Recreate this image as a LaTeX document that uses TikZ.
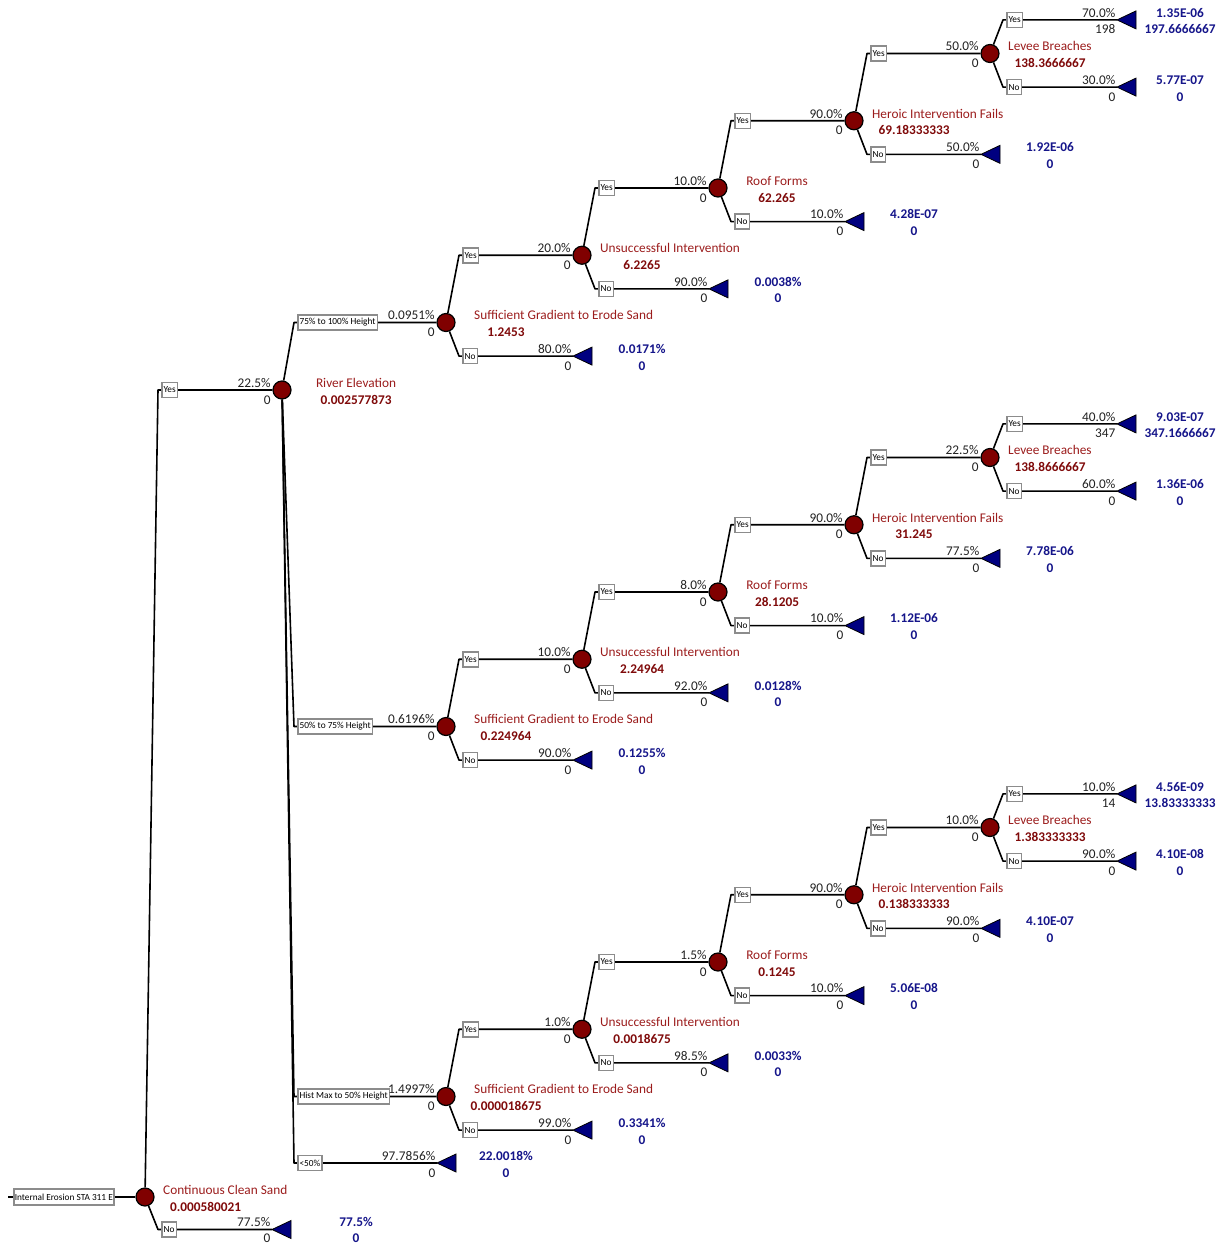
\documentclass[tikz,border=0pt]{standalone}
\usepackage{fontspec}
\setmainfont{Carlito}
\usepackage{xcolor}
\definecolor{chancered}{HTML}{800000}
\definecolor{labelred}{HTML}{9B1C1C}
\definecolor{valred}{HTML}{7F0A0A}
\definecolor{leafblue}{HTML}{000080}
\definecolor{termblue}{HTML}{15158A}
\definecolor{boxgray}{HTML}{8C8C8C}
\definecolor{probgray}{HTML}{222222}
\usetikzlibrary{positioning}

\tikzset{
  chance/.style={circle, draw=black, line width=1.2pt, fill=chancered, minimum size=18pt, inner sep=0pt},
  branch/.style={line width=1.6pt, line join=round},
  leaf/.style={draw=black, line width=0.8pt, fill=leafblue},
  boxbase/.style={draw=boxgray, line width=1.5pt, fill=white, font=\fontsize{9.3}{10}\selectfont,
    inner xsep=1.8pt, inner ysep=0pt, minimum height=15pt},
  brbox/.style={boxbase, anchor=west, xshift=3pt},
  rowup/.style={yshift=2.7pt},
  rowdn/.style={yshift=-14pt},
  prob/.style={anchor=base east, xshift=-1.5pt, inner sep=0pt, text=probgray, font=\fontsize{13.3}{15}\selectfont},
  nlbl/.style={anchor=base, inner sep=0pt, text=labelred, font=\fontsize{13.3}{15}\selectfont},
  nval/.style={anchor=base, inner sep=0pt, text=valred, font=\fontsize{13.3}{15}\selectfont\bfseries},
  tval/.style={anchor=base, inner sep=0pt, text=termblue, font=\fontsize{13.3}{15}\selectfont\bfseries},
}

\begin{document}
\begin{tikzpicture}[x=1pt, y=-1pt]
  \useasboundingbox (0,0) rectangle (1221,1245);

  % --- Root: Continuous Clean Sand ---
  \coordinate (start) at (8,1197);
  \node[boxbase, anchor=west, inner xsep=1pt, minimum height=16pt] (root) at (13,1197) {Internal Erosion STA 311 E};
  \node[chance] (cc) at (145,1197) {};
  \node[chance] (re) at (282,390) {};
  \coordinate (ccy) at (158,390);
  \coordinate (ccn) at (158,1229.5);
  \coordinate (cct) at (272,1229.5);
  \draw[branch] (start) -- (root) -- (cc);
  \draw[branch] (cc) -- (ccy) -- (re);
  \draw[branch] (cc) -- (ccn) -- (cct);
  \draw[leaf] (cct) -- ++(19,-9) -- ++(0,18) -- cycle;
  \node[brbox] (ccyb) at (ccy) {Yes};
  \node[brbox] (ccnb) at (ccn) {No};
  \node[nlbl, rowup, anchor=base west] (ccl) at (163,1197) {Continuous Clean Sand};
  \node[nval, rowdn, anchor=base west] (ccv) at (170,1197) {0.000580021};
  \node[prob, rowup] (rep1) at (re.west) {22.5\%};
  \node[prob, rowdn] (rep2) at (re.west) {0};
  \node[prob, rowup] (cctp1) at (cct) {77.5\%};
  \node[prob, yshift=-12.5pt] (cctp2) at (cct) {0};
  \node[tval, rowup] (ccta) at (356,1229.5) {77.5\%};
  \node[tval, yshift=-12.5pt] (cctb) at (356,1229.5) {0};

  % --- River Elevation ---
  \node[nlbl, rowup] (rel) at (356,390) {River Elevation};
  \node[nval, rowdn] (rev) at (356,390) {0.002577873};
  \node[chance] (sgA) at (446,322.5) {};
  \node[chance] (sgB) at (446,726.5) {};
  \node[chance] (sgC) at (446,1096.5) {};
  \coordinate (rea) at (294,322.5);
  \coordinate (reb) at (294,726.5);
  \coordinate (rec) at (294,1096.5);
  \coordinate (red) at (294,1163);
  \coordinate (ret) at (437,1163);
  \draw[branch] (re) -- (rea) -- (sgA);
  \draw[branch] (re) -- (reb) -- (sgB);
  \draw[branch] (re) -- (rec) -- (sgC);
  \draw[branch] (re) -- (red) -- (ret);
  \draw[leaf] (ret) -- ++(19,-9) -- ++(0,18) -- cycle;
  \node[brbox] (reab) at (rea) {75\% to 100\% Height};
  \node[brbox] (rebb) at (reb) {50\% to 75\% Height};
  \node[brbox] (recb) at (rec) {Hist Max to 50\% Height};
  \node[brbox] (redb) at (red) {<50\%};
  \node[prob, rowup] (sgAp1) at (sgA.west) {0.0951\%};
  \node[prob, rowdn] (sgAp2) at (sgA.west) {0};
  \node[prob, rowup] (sgBp1) at (sgB.west) {0.6196\%};
  \node[prob, rowdn] (sgBp2) at (sgB.west) {0};
  \node[prob, rowup] (sgCp1) at (sgC.west) {1.4997\%};
  \node[prob, rowdn] (sgCp2) at (sgC.west) {0};
  \node[prob, rowup] (retp1) at (ret) {97.7856\%};
  \node[prob, rowdn] (retp2) at (ret) {0};
  \node[tval, rowup] (reta) at (506,1163) {22.0018\%};
  \node[tval, rowdn] (retb) at (506,1163) {0};

  % --- Subtree A: 75% to 100% Height ---
  \begin{scope}
  \node[chance] (uiA) at (582,255.25) {};
  \node[chance] (rfA) at (718,188) {};
  \node[chance] (hiA) at (854,120.75) {};
  \node[chance] (lbA) at (990,53.5) {};
  \coordinate (sgAy) at (459,255.25);  \coordinate (sgAn) at (459,356.1);  \coordinate (sgAt) at (573,356.1);
  \coordinate (uiAy) at (595,188);     \coordinate (uiAn) at (595,288.85); \coordinate (uiAt) at (709,288.85);
  \coordinate (rfAy) at (731,120.75);  \coordinate (rfAn) at (731,221.6);  \coordinate (rfAt) at (845,221.6);
  \coordinate (hiAy) at (867,53.5);    \coordinate (hiAn) at (867,154.35); \coordinate (hiAt) at (981,154.35);
  \coordinate (lbAy) at (1003,19.9);   \coordinate (lbAn) at (1003,87.1);
  \coordinate (lbAyt) at (1117,19.9);  \coordinate (lbAnt) at (1117,87.1);
  \draw[branch] (sgA) -- (sgAy) -- (uiA);
  \draw[branch] (sgA) -- (sgAn) -- (sgAt);
  \draw[branch] (uiA) -- (uiAy) -- (rfA);
  \draw[branch] (uiA) -- (uiAn) -- (uiAt);
  \draw[branch] (rfA) -- (rfAy) -- (hiA);
  \draw[branch] (rfA) -- (rfAn) -- (rfAt);
  \draw[branch] (hiA) -- (hiAy) -- (lbA);
  \draw[branch] (hiA) -- (hiAn) -- (hiAt);
  \draw[branch] (lbA) -- (lbAy) -- (lbAyt);
  \draw[branch] (lbA) -- (lbAn) -- (lbAnt);
  \foreach \t in {sgAt, uiAt, rfAt, hiAt, lbAyt, lbAnt}
    \draw[leaf] (\t) -- ++(19,-9) -- ++(0,18) -- cycle;
  % Yes / No boxes
  \foreach \b in {sgA, uiA, rfA, hiA, lbA} {
    \node[brbox] (\b yb) at (\b y) {Yes};
    \node[brbox] (\b nb) at (\b n) {No};
  }
  % node labels
  \node[nlbl, rowup, anchor=base west] (sgAl) at (474,322.5) {Sufficient Gradient to Erode Sand};
  \node[nval, rowdn] (sgAv) at (506,322.5) {1.2453};
  \node[nlbl, rowup, anchor=base west] (uiAl) at (600,255.25) {Unsuccessful Intervention};
  \node[nval, rowdn] (uiAv) at (642,255.25) {6.2265};
  \node[nlbl, rowup] (rfAl) at (777,188) {Roof Forms};
  \node[nval, rowdn] (rfAv) at (777,188) {62.265};
  \node[nlbl, rowup, anchor=base west] (hiAl) at (872,120.75) {Heroic Intervention Fails};
  \node[nval, rowdn] (hiAv) at (914,120.75) {69.18333333};
  \node[nlbl, rowup, anchor=base west] (lbAl) at (1008,53.5) {Levee Breaches};
  \node[nval, rowdn] (lbAv) at (1050,53.5) {138.3666667};
  % probabilities
  \node[prob, rowup] (uiAp1) at (uiA.west) {20.0\%};  \node[prob, rowdn] (uiAp2) at (uiA.west) {0};
  \node[prob, rowup] (sgAtp1) at (sgAt) {80.0\%};     \node[prob, rowdn] (sgAtp2) at (sgAt) {0};
  \node[prob, rowup] (rfAp1) at (rfA.west) {10.0\%};  \node[prob, rowdn] (rfAp2) at (rfA.west) {0};
  \node[prob, rowup] (uiAtp1) at (uiAt) {90.0\%};     \node[prob, rowdn] (uiAtp2) at (uiAt) {0};
  \node[prob, rowup] (hiAp1) at (hiA.west) {90.0\%};  \node[prob, rowdn] (hiAp2) at (hiA.west) {0};
  \node[prob, rowup] (rfAtp1) at (rfAt) {10.0\%};     \node[prob, rowdn] (rfAtp2) at (rfAt) {0};
  \node[prob, rowup] (lbAp1) at (lbA.west) {50.0\%};  \node[prob, rowdn] (lbAp2) at (lbA.west) {0};
  \node[prob, rowup] (hiAtp1) at (hiAt) {50.0\%};     \node[prob, rowdn] (hiAtp2) at (hiAt) {0};
  \node[prob, rowup] (lbAyp1) at (lbAyt) {70.0\%};    \node[prob, rowdn] (lbAyp2) at (lbAyt) {198};
  \node[prob, rowup] (lbAnp1) at (lbAnt) {30.0\%};    \node[prob, rowdn] (lbAnp2) at (lbAnt) {0};
  % terminal values
  \node[tval, rowup] (sgAta) at (642,356.1) {0.0171\%};     \node[tval, rowdn] (sgAtb) at (642,356.1) {0};
  \node[tval, rowup] (uiAta) at (778,288.85) {0.0038\%};    \node[tval, rowdn] (uiAtb) at (778,288.85) {0};
  \node[tval, rowup] (rfAta) at (914,221.6) {4.28E-07};     \node[tval, rowdn] (rfAtb) at (914,221.6) {0};
  \node[tval, rowup] (hiAta) at (1050,154.35) {1.92E-06};   \node[tval, rowdn] (hiAtb) at (1050,154.35) {0};
  \node[tval, rowup] (lbAya) at (1180,19.9) {1.35E-06};     \node[tval, rowdn] (lbAyb) at (1180,19.9) {197.6666667};
  \node[tval, rowup] (lbAna) at (1180,87.1) {5.77E-07};     \node[tval, rowdn] (lbAnb) at (1180,87.1) {0};
  \end{scope}

  % --- Subtree B: 50% to 75% Height ---
  \begin{scope}[yshift=-404pt]
  \node[chance] (uiB) at (582,255.25) {};
  \node[chance] (rfB) at (718,188) {};
  \node[chance] (hiB) at (854,120.75) {};
  \node[chance] (lbB) at (990,53.5) {};
  \coordinate (sgBy) at (459,255.25);  \coordinate (sgBn) at (459,356.1);  \coordinate (sgBt) at (573,356.1);
  \coordinate (uiBy) at (595,188);     \coordinate (uiBn) at (595,288.85); \coordinate (uiBt) at (709,288.85);
  \coordinate (rfBy) at (731,120.75);  \coordinate (rfBn) at (731,221.6);  \coordinate (rfBt) at (845,221.6);
  \coordinate (hiBy) at (867,53.5);    \coordinate (hiBn) at (867,154.35); \coordinate (hiBt) at (981,154.35);
  \coordinate (lbBy) at (1003,19.9);   \coordinate (lbBn) at (1003,87.1);
  \coordinate (lbByt) at (1117,19.9);  \coordinate (lbBnt) at (1117,87.1);
  \draw[branch] (sgB) -- (sgBy) -- (uiB);
  \draw[branch] (sgB) -- (sgBn) -- (sgBt);
  \draw[branch] (uiB) -- (uiBy) -- (rfB);
  \draw[branch] (uiB) -- (uiBn) -- (uiBt);
  \draw[branch] (rfB) -- (rfBy) -- (hiB);
  \draw[branch] (rfB) -- (rfBn) -- (rfBt);
  \draw[branch] (hiB) -- (hiBy) -- (lbB);
  \draw[branch] (hiB) -- (hiBn) -- (hiBt);
  \draw[branch] (lbB) -- (lbBy) -- (lbByt);
  \draw[branch] (lbB) -- (lbBn) -- (lbBnt);
  \foreach \t in {sgBt, uiBt, rfBt, hiBt, lbByt, lbBnt}
    \draw[leaf] (\t) -- ++(19,-9) -- ++(0,18) -- cycle;
  % Yes / No boxes
  \foreach \b in {sgB, uiB, rfB, hiB, lbB} {
    \node[brbox] (\b yb) at (\b y) {Yes};
    \node[brbox] (\b nb) at (\b n) {No};
  }
  % node labels
  \node[nlbl, rowup, anchor=base west] (sgBl) at (474,322.5) {Sufficient Gradient to Erode Sand};
  \node[nval, rowdn] (sgBv) at (506,322.5) {0.224964};
  \node[nlbl, rowup, anchor=base west] (uiBl) at (600,255.25) {Unsuccessful Intervention};
  \node[nval, rowdn] (uiBv) at (642,255.25) {2.24964};
  \node[nlbl, rowup] (rfBl) at (777,188) {Roof Forms};
  \node[nval, rowdn] (rfBv) at (777,188) {28.1205};
  \node[nlbl, rowup, anchor=base west] (hiBl) at (872,120.75) {Heroic Intervention Fails};
  \node[nval, rowdn] (hiBv) at (914,120.75) {31.245};
  \node[nlbl, rowup, anchor=base west] (lbBl) at (1008,53.5) {Levee Breaches};
  \node[nval, rowdn] (lbBv) at (1050,53.5) {138.8666667};
  % probabilities
  \node[prob, rowup] (uiBp1) at (uiB.west) {10.0\%};  \node[prob, rowdn] (uiBp2) at (uiB.west) {0};
  \node[prob, rowup] (sgBtp1) at (sgBt) {90.0\%};     \node[prob, rowdn] (sgBtp2) at (sgBt) {0};
  \node[prob, rowup] (rfBp1) at (rfB.west) {8.0\%};   \node[prob, rowdn] (rfBp2) at (rfB.west) {0};
  \node[prob, rowup] (uiBtp1) at (uiBt) {92.0\%};     \node[prob, rowdn] (uiBtp2) at (uiBt) {0};
  \node[prob, rowup] (hiBp1) at (hiB.west) {90.0\%};  \node[prob, rowdn] (hiBp2) at (hiB.west) {0};
  \node[prob, rowup] (rfBtp1) at (rfBt) {10.0\%};     \node[prob, rowdn] (rfBtp2) at (rfBt) {0};
  \node[prob, rowup] (lbBp1) at (lbB.west) {22.5\%};  \node[prob, rowdn] (lbBp2) at (lbB.west) {0};
  \node[prob, rowup] (hiBtp1) at (hiBt) {77.5\%};     \node[prob, rowdn] (hiBtp2) at (hiBt) {0};
  \node[prob, rowup] (lbByp1) at (lbByt) {40.0\%};    \node[prob, rowdn] (lbByp2) at (lbByt) {347};
  \node[prob, rowup] (lbBnp1) at (lbBnt) {60.0\%};    \node[prob, rowdn] (lbBnp2) at (lbBnt) {0};
  % terminal values
  \node[tval, rowup] (sgBta) at (642,356.1) {0.1255\%};     \node[tval, rowdn] (sgBtb) at (642,356.1) {0};
  \node[tval, rowup] (uiBta) at (778,288.85) {0.0128\%};    \node[tval, rowdn] (uiBtb) at (778,288.85) {0};
  \node[tval, rowup] (rfBta) at (914,221.6) {1.12E-06};     \node[tval, rowdn] (rfBtb) at (914,221.6) {0};
  \node[tval, rowup] (hiBta) at (1050,154.35) {7.78E-06};   \node[tval, rowdn] (hiBtb) at (1050,154.35) {0};
  \node[tval, rowup] (lbBya) at (1180,19.9) {9.03E-07};     \node[tval, rowdn] (lbByb) at (1180,19.9) {347.1666667};
  \node[tval, rowup] (lbBna) at (1180,87.1) {1.36E-06};     \node[tval, rowdn] (lbBnb) at (1180,87.1) {0};
  \end{scope}

  % --- Subtree C: Hist Max to 50% Height ---
  \begin{scope}[yshift=-774pt]
  \node[chance] (uiC) at (582,255.25) {};
  \node[chance] (rfC) at (718,188) {};
  \node[chance] (hiC) at (854,120.75) {};
  \node[chance] (lbC) at (990,53.5) {};
  \coordinate (sgCy) at (459,255.25);  \coordinate (sgCn) at (459,356.1);  \coordinate (sgCt) at (573,356.1);
  \coordinate (uiCy) at (595,188);     \coordinate (uiCn) at (595,288.85); \coordinate (uiCt) at (709,288.85);
  \coordinate (rfCy) at (731,120.75);  \coordinate (rfCn) at (731,221.6);  \coordinate (rfCt) at (845,221.6);
  \coordinate (hiCy) at (867,53.5);    \coordinate (hiCn) at (867,154.35); \coordinate (hiCt) at (981,154.35);
  \coordinate (lbCy) at (1003,19.9);   \coordinate (lbCn) at (1003,87.1);
  \coordinate (lbCyt) at (1117,19.9);  \coordinate (lbCnt) at (1117,87.1);
  \draw[branch] (sgC) -- (sgCy) -- (uiC);
  \draw[branch] (sgC) -- (sgCn) -- (sgCt);
  \draw[branch] (uiC) -- (uiCy) -- (rfC);
  \draw[branch] (uiC) -- (uiCn) -- (uiCt);
  \draw[branch] (rfC) -- (rfCy) -- (hiC);
  \draw[branch] (rfC) -- (rfCn) -- (rfCt);
  \draw[branch] (hiC) -- (hiCy) -- (lbC);
  \draw[branch] (hiC) -- (hiCn) -- (hiCt);
  \draw[branch] (lbC) -- (lbCy) -- (lbCyt);
  \draw[branch] (lbC) -- (lbCn) -- (lbCnt);
  \foreach \t in {sgCt, uiCt, rfCt, hiCt, lbCyt, lbCnt}
    \draw[leaf] (\t) -- ++(19,-9) -- ++(0,18) -- cycle;
  % Yes / No boxes
  \foreach \b in {sgC, uiC, rfC, hiC, lbC} {
    \node[brbox] (\b yb) at (\b y) {Yes};
    \node[brbox] (\b nb) at (\b n) {No};
  }
  % node labels
  \node[nlbl, rowup, anchor=base west] (sgCl) at (474,322.5) {Sufficient Gradient to Erode Sand};
  \node[nval, rowdn] (sgCv) at (506,322.5) {0.000018675};
  \node[nlbl, rowup, anchor=base west] (uiCl) at (600,255.25) {Unsuccessful Intervention};
  \node[nval, rowdn] (uiCv) at (642,255.25) {0.0018675};
  \node[nlbl, rowup] (rfCl) at (777,188) {Roof Forms};
  \node[nval, rowdn] (rfCv) at (777,188) {0.1245};
  \node[nlbl, rowup, anchor=base west] (hiCl) at (872,120.75) {Heroic Intervention Fails};
  \node[nval, rowdn] (hiCv) at (914,120.75) {0.138333333};
  \node[nlbl, rowup, anchor=base west] (lbCl) at (1008,53.5) {Levee Breaches};
  \node[nval, rowdn] (lbCv) at (1050,53.5) {1.383333333};
  % probabilities
  \node[prob, rowup] (uiCp1) at (uiC.west) {1.0\%};   \node[prob, rowdn] (uiCp2) at (uiC.west) {0};
  \node[prob, rowup] (sgCtp1) at (sgCt) {99.0\%};     \node[prob, rowdn] (sgCtp2) at (sgCt) {0};
  \node[prob, rowup] (rfCp1) at (rfC.west) {1.5\%};   \node[prob, rowdn] (rfCp2) at (rfC.west) {0};
  \node[prob, rowup] (uiCtp1) at (uiCt) {98.5\%};     \node[prob, rowdn] (uiCtp2) at (uiCt) {0};
  \node[prob, rowup] (hiCp1) at (hiC.west) {90.0\%};  \node[prob, rowdn] (hiCp2) at (hiC.west) {0};
  \node[prob, rowup] (rfCtp1) at (rfCt) {10.0\%};     \node[prob, rowdn] (rfCtp2) at (rfCt) {0};
  \node[prob, rowup] (lbCp1) at (lbC.west) {10.0\%};  \node[prob, rowdn] (lbCp2) at (lbC.west) {0};
  \node[prob, rowup] (hiCtp1) at (hiCt) {90.0\%};     \node[prob, rowdn] (hiCtp2) at (hiCt) {0};
  \node[prob, rowup] (lbCyp1) at (lbCyt) {10.0\%};    \node[prob, rowdn] (lbCyp2) at (lbCyt) {14};
  \node[prob, rowup] (lbCnp1) at (lbCnt) {90.0\%};    \node[prob, rowdn] (lbCnp2) at (lbCnt) {0};
  % terminal values
  \node[tval, rowup] (sgCta) at (642,356.1) {0.3341\%};     \node[tval, rowdn] (sgCtb) at (642,356.1) {0};
  \node[tval, rowup] (uiCta) at (778,288.85) {0.0033\%};    \node[tval, rowdn] (uiCtb) at (778,288.85) {0};
  \node[tval, rowup] (rfCta) at (914,221.6) {5.06E-08};     \node[tval, rowdn] (rfCtb) at (914,221.6) {0};
  \node[tval, rowup] (hiCta) at (1050,154.35) {4.10E-07};   \node[tval, rowdn] (hiCtb) at (1050,154.35) {0};
  \node[tval, rowup] (lbCya) at (1180,19.9) {4.56E-09};     \node[tval, rowdn] (lbCyb) at (1180,19.9) {13.83333333};
  \node[tval, rowup] (lbCna) at (1180,87.1) {4.10E-08};     \node[tval, rowdn] (lbCnb) at (1180,87.1) {0};
  \end{scope}
\end{tikzpicture}
\end{document}
